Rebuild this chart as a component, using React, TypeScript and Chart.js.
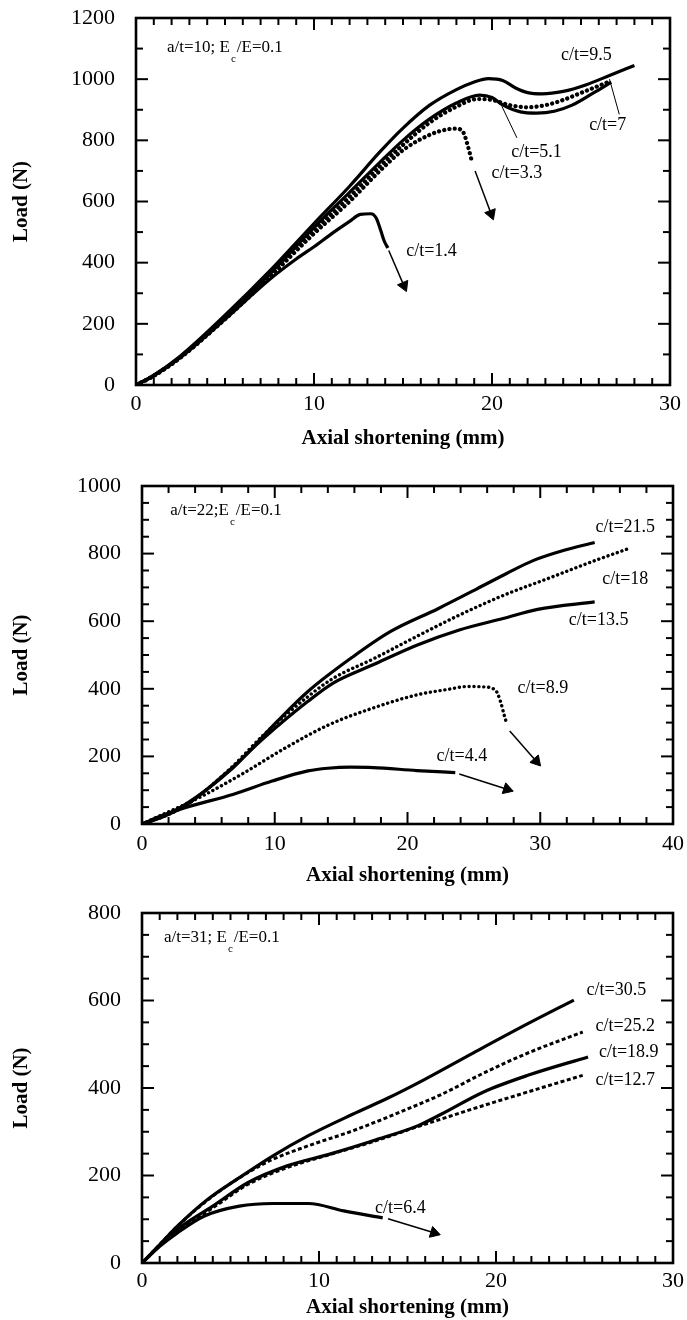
import React, { useEffect, useRef } from "react";
import { Chart, registerables } from "chart.js";

Chart.register(...registerables);

const SERIF = "'Liberation Serif', 'Times New Roman', Times, serif";

// ---------------- Panel 1 : a/t=10 ----------------
const p1XTicks = [0, 10, 20, 30];
const p1YTicks = [0, 200, 400, 600, 800, 1000, 1200];

const p1_95_x = [0, 1, 2.5, 5, 7.5, 10, 12, 13.7, 15, 16.5, 18, 19, 19.8, 20.6, 21.3, 22, 22.8, 24, 25.3, 26.6, 28];
const p1_95_y = [0, 32, 95, 228, 372, 528, 650, 762, 840, 915, 966, 991, 1002, 996, 972, 956, 952, 960, 982, 1012, 1045];
const p1_7_x = [0, 1, 2.5, 5, 7.5, 10, 12, 13.7, 15, 16.5, 18, 19.2, 20, 21, 22, 23, 24, 25, 26.7];
const p1_7_y = [0, 30, 90, 218, 358, 505, 615, 715, 785, 858, 910, 935, 932, 915, 908, 915, 932, 955, 995];
const p1_51_x = [0, 1, 2.5, 5, 7.5, 10, 12, 13.7, 15, 16.5, 18, 19.3, 20, 20.6, 21.6, 22.5, 23.5, 24.5, 25.7, 26.7];
const p1_51_y = [0, 31, 93, 222, 362, 515, 630, 728, 800, 870, 922, 948, 940, 916, 893, 889, 895, 915, 955, 990];
const p1_33_x = [0, 1, 2.5, 5, 7.5, 10, 12, 13.7, 15, 16.5, 17.5, 18, 18.4, 18.65, 18.9];
const p1_33_y = [0, 30, 90, 215, 352, 495, 600, 700, 768, 818, 836, 838, 825, 780, 725];
const p1_14_x = [0, 1, 2.5, 5, 7.5, 9, 10, 11, 12, 12.6, 13.2, 13.5, 13.75, 13.95, 14.15];
const p1_14_y = [0, 30, 90, 215, 345, 412, 452, 495, 535, 558, 560, 545, 505, 470, 448];

const p1Arrow33_x = [19.05, 19.95];
const p1Arrow33_y = [700, 560];
const p1Arrow14_x = [14.2, 15.05];
const p1Arrow14_y = [440, 325];
const p1Leader7_x = [26.6, 27.15];
const p1Leader7_y = [1000, 885];
const p1Leader51_x = [20.55, 21.4];
const p1Leader51_y = [912, 808];

const p1LabelText = ["c/t=9.5", "c/t=7", "c/t=5.1", "c/t=3.3", "c/t=1.4"];
const p1LabelX = [25.3, 26.5, 22.5, 21.4, 16.6];
const p1LabelY = [1079, 850, 762, 693, 438];
const p1Header = ["a/t=10; E", "c", "/E=0.1"];
const p1HeaderPos = [1.74, 1102];

// ---------------- Panel 2 : a/t=22 ----------------
const p2XTicks = [0, 10, 20, 30, 40];
const p2YTicks = [0, 200, 400, 600, 800, 1000];

const p2_215_x = [0, 1.5, 3.3, 6.6, 10.2, 12.5, 15.9, 18.7, 22.3, 25.2, 27.5, 29.5, 31.8, 34.1];
const p2_215_y = [0, 22, 59, 157, 304, 392, 495, 569, 637, 695, 742, 780, 810, 833];
const p2_18_x = [0, 1.5, 3.3, 6.6, 9.2, 12.5, 14.4, 17.4, 20.7, 23.9, 27.2, 30.5, 34.1, 36.6];
const p2_18_y = [0, 20, 55, 162, 265, 377, 431, 488, 555, 618, 676, 725, 779, 814];
const p2_135_x = [0, 1.5, 3.3, 6.6, 9.2, 12.5, 14.4, 17.4, 20.7, 23.9, 27.2, 29.8, 34.1];
const p2_135_y = [0, 20, 55, 160, 255, 363, 417, 471, 529, 574, 608, 635, 657];
const p2_89_x = [0, 1.6, 4.3, 7.5, 10.8, 14.1, 17.4, 20.7, 23, 24.6, 25.6, 26.6, 27.0, 27.3, 27.5];
const p2_89_y = [0, 29, 78, 147, 225, 294, 343, 382, 398, 407, 406, 397, 363, 320, 294];
const p2_44_x = [0, 1.5, 3.3, 6.9, 9.8, 12.5, 14, 15.7, 17.4, 20.7, 23.6];
const p2_44_y = [0, 25, 49, 88, 127, 157, 165, 168, 167, 158, 152];

const p2Arrow89_x = [27.7, 29.7];
const p2Arrow89_y = [275, 186];
const p2Arrow44_x = [23.9, 27.5];
const p2Arrow44_y = [148, 103];

const p2LabelText = ["c/t=21.5", "c/t=18", "c/t=13.5", "c/t=8.9", "c/t=4.4"];
const p2LabelX = [36.4, 36.4, 34.4, 30.2, 24.1];
const p2LabelY = [877, 725, 603, 402, 201];
const p2Header = ["a/t=22;E", "c", "/E=0.1"];
const p2HeaderPos = [2.13, 926];

// ---------------- Panel 3 : a/t=31 ----------------
const p3XTicks = [0, 10, 20, 30];
const p3YTicks = [0, 200, 400, 600, 800];

const p3_305_x = [0, 1, 2, 3.7, 5.5, 7.4, 9.4, 11.9, 13.9, 15.9, 18.8, 21.8, 24.4];
const p3_305_y = [0, 42, 84, 145, 195, 245, 291, 340, 377, 418, 482, 547, 601];
const p3_252_x = [0, 1, 2, 4, 6, 7.4, 9.4, 11.9, 14.4, 16.9, 19.3, 21.8, 24.9];
const p3_252_y = [0, 42, 84, 153, 207, 237, 268, 302, 342, 385, 434, 480, 528];
const p3_189_x = [0, 1, 2, 4, 6, 8.2, 10.7, 13.1, 15.6, 16.9, 19.3, 21.8, 25.2];
const p3_189_y = [0, 40, 77, 130, 184, 222, 250, 280, 314, 340, 391, 429, 471];
const p3_127_x = [0, 1, 2, 4, 6, 8.2, 10.7, 13.1, 15.6, 16.9, 19.3, 21.8, 24.9];
const p3_127_y = [0, 39, 73, 126, 180, 218, 249, 278, 312, 329, 360, 391, 429];
const p3_64_x = [0, 1, 2, 3.5, 5.5, 7.4, 9.4, 11.4, 13.6];
const p3_64_y = [0, 38, 69, 107, 130, 136, 136, 119, 103];

const p3Arrow64_x = [13.9, 16.5];
const p3Arrow64_y = [101, 69];

const p3LabelText = ["c/t=30.5", "c/t=25.2", "c/t=18.9", "c/t=12.7", "c/t=6.4"];
const p3LabelX = [26.8, 27.3, 27.5, 27.3, 14.6];
const p3LabelY = [624, 540, 482, 417, 126];
const p3Header = ["a/t=31; E", "c", "/E=0.1"];
const p3HeaderPos = [1.24, 743];

// ---------------------------------------------------
type Curve = { x: number[]; y: number[]; dotted: boolean };
type Seg = { x: number[]; y: number[] };

interface PanelCfg {
  top: number;
  height: number;
  padTop: number;
  padRight: number;
  yAxisWidth: number;
  xAxisHeight: number;
  xTickPad: number;
  yTickPad: number;
  xTitlePadBottom: number;
  xMin: number;
  xMax: number;
  yMin: number;
  yMax: number;
  xTicks: number[];
  yTicks: number[];
  xMinor: number;
  xMajor: number;
  yMinor: number;
  yMajor: number;
  curves: Curve[];
  arrows: Seg[];
  leaders: Seg[];
  labelText: string[];
  labelX: number[];
  labelY: number[];
  header: string[];
  headerPos: number[];
  dash: number[];
  dotWidth: number;
  dotCap: "round" | "butt";
  solidWidth: number;
}

const panels: PanelCfg[] = [
  {
    top: 0, height: 460, padTop: 18, padRight: 17, yAxisWidth: 136, xAxisHeight: 75,
    xTickPad: 6, yTickPad: 21, xTitlePadBottom: 8.4,
    xMin: 0, xMax: 30, yMin: 0, yMax: 1200, xTicks: p1XTicks, yTicks: p1YTicks,
    xMinor: 1, xMajor: 10, yMinor: 100, yMajor: 200,
    curves: [
      { x: p1_95_x, y: p1_95_y, dotted: false },
      { x: p1_7_x, y: p1_7_y, dotted: true },
      { x: p1_51_x, y: p1_51_y, dotted: false },
      { x: p1_33_x, y: p1_33_y, dotted: true },
      { x: p1_14_x, y: p1_14_y, dotted: false },
    ],
    arrows: [
      { x: p1Arrow33_x, y: p1Arrow33_y },
      { x: p1Arrow14_x, y: p1Arrow14_y },
    ],
    leaders: [
      { x: p1Leader7_x, y: p1Leader7_y },
      { x: p1Leader51_x, y: p1Leader51_y },
    ],
    labelText: p1LabelText, labelX: p1LabelX, labelY: p1LabelY,
    header: p1Header, headerPos: p1HeaderPos,
    dash: [0.1, 5.2], dotWidth: 4.2, dotCap: "round", solidWidth: 3.2,
  },
  {
    top: 460, height: 430, padTop: 26, padRight: 14, yAxisWidth: 142, xAxisHeight: 66,
    xTickPad: 6.8, yTickPad: 21, xTitlePadBottom: 1.4,
    xMin: 0, xMax: 40, yMin: 0, yMax: 1000, xTicks: p2XTicks, yTicks: p2YTicks,
    xMinor: 2, xMajor: 10, yMinor: 50, yMajor: 200,
    curves: [
      { x: p2_215_x, y: p2_215_y, dotted: false },
      { x: p2_18_x, y: p2_18_y, dotted: true },
      { x: p2_135_x, y: p2_135_y, dotted: false },
      { x: p2_89_x, y: p2_89_y, dotted: true },
      { x: p2_44_x, y: p2_44_y, dotted: false },
    ],
    arrows: [
      { x: p2Arrow89_x, y: p2Arrow89_y },
      { x: p2Arrow44_x, y: p2Arrow44_y },
    ],
    leaders: [],
    labelText: p2LabelText, labelX: p2LabelX, labelY: p2LabelY,
    header: p2Header, headerPos: p2HeaderPos,
    dash: [0.1, 4.8], dotWidth: 3.4, dotCap: "round", solidWidth: 3.2,
  },
  {
    top: 890, height: 430, padTop: 23, padRight: 14, yAxisWidth: 142, xAxisHeight: 57,
    xTickPad: 4.8, yTickPad: 21, xTitlePadBottom: 0,
    xMin: 0, xMax: 30, yMin: 0, yMax: 800, xTicks: p3XTicks, yTicks: p3YTicks,
    xMinor: 1, xMajor: 10, yMinor: 50, yMajor: 200,
    curves: [
      { x: p3_305_x, y: p3_305_y, dotted: false },
      { x: p3_252_x, y: p3_252_y, dotted: true },
      { x: p3_189_x, y: p3_189_y, dotted: false },
      { x: p3_127_x, y: p3_127_y, dotted: true },
      { x: p3_64_x, y: p3_64_y, dotted: false },
    ],
    arrows: [{ x: p3Arrow64_x, y: p3Arrow64_y }],
    leaders: [],
    labelText: p3LabelText, labelX: p3LabelX, labelY: p3LabelY,
    header: p3Header, headerPos: p3HeaderPos,
    dash: [4, 2.5], dotWidth: 3, dotCap: "butt", solidWidth: 3.2,
  },
];

const toPts = (xs: number[], ys: number[]) => xs.map((x, i) => ({ x, y: ys[i] }));

function makeDecor(cfg: PanelCfg) {
  return {
    id: "decor",
    afterDatasetsDraw(chart: any) {
      const { ctx, chartArea } = chart;
      const { left, right, top, bottom } = chartArea;
      const xs = chart.scales.x;
      const ys = chart.scales.y;
      ctx.save();
      ctx.strokeStyle = "#000";
      ctx.fillStyle = "#000";
      ctx.lineCap = "butt";
      const seg = (a: number, b: number, c: number, d: number) => {
        ctx.beginPath();
        ctx.moveTo(a, b);
        ctx.lineTo(c, d);
        ctx.stroke();
      };
      const isMajor = (v: number, m: number) => Math.abs(v / m - Math.round(v / m)) < 1e-6;
      ctx.lineWidth = 2;
      const nx = Math.round((cfg.xMax - cfg.xMin) / cfg.xMinor);
      for (let i = 1; i < nx; i++) {
        const v = cfg.xMin + i * cfg.xMinor;
        const len = isMajor(v, cfg.xMajor) ? 12 : 7;
        const px = xs.getPixelForValue(v);
        seg(px, bottom, px, bottom - len);
        seg(px, top, px, top + len);
      }
      const ny = Math.round((cfg.yMax - cfg.yMin) / cfg.yMinor);
      for (let i = 1; i < ny; i++) {
        const v = cfg.yMin + i * cfg.yMinor;
        const len = isMajor(v, cfg.yMajor) ? 12 : 7;
        const py = ys.getPixelForValue(v);
        seg(left, py, left + len, py);
        seg(right, py, right - len, py);
      }
      ctx.lineWidth = 2.6;
      ctx.strokeRect(left, top, right - left, bottom - top);

      // curve labels
      ctx.font = `18px ${SERIF}`;
      ctx.textAlign = "center";
      ctx.textBaseline = "middle";
      cfg.labelText.forEach((t, i) => {
        ctx.fillText(t, xs.getPixelForValue(cfg.labelX[i]), ys.getPixelForValue(cfg.labelY[i]));
      });

      // header with subscript
      let hx = xs.getPixelForValue(cfg.headerPos[0]);
      const hy = ys.getPixelForValue(cfg.headerPos[1]);
      ctx.textAlign = "left";
      ctx.font = `17px ${SERIF}`;
      ctx.fillText(cfg.header[0], hx, hy);
      hx += ctx.measureText(cfg.header[0]).width + 1;
      ctx.font = `11px ${SERIF}`;
      ctx.fillText(cfg.header[1], hx, hy + 11);
      hx += ctx.measureText(cfg.header[1]).width + 1;
      ctx.font = `17px ${SERIF}`;
      ctx.fillText(cfg.header[2], hx, hy);
      ctx.restore();
    },
  };
}

function Panel({ cfg }: { cfg: PanelCfg }) {
  const ref = useRef<HTMLCanvasElement | null>(null);
  useEffect(() => {
    if (!ref.current) return;
    const datasets: any[] = [];
    cfg.curves.forEach((c) => {
      datasets.push({
        data: toPts(c.x, c.y),
        borderColor: "#000",
        borderWidth: c.dotted ? cfg.dotWidth : cfg.solidWidth,
        borderDash: c.dotted ? cfg.dash : [],
        borderCapStyle: c.dotted ? cfg.dotCap : "butt",
        pointRadius: 0,
        fill: false,
        cubicInterpolationMode: "monotone",
      });
    });
    cfg.leaders.forEach((l) => {
      datasets.push({
        data: toPts(l.x, l.y),
        borderColor: "#000",
        borderWidth: 1,
        pointRadius: 0,
        fill: false,
      });
    });
    cfg.arrows.forEach((a) => {
      datasets.push({
        data: toPts(a.x, a.y),
        borderColor: "#000",
        borderWidth: 1.5,
        fill: false,
        pointStyle: "triangle",
        pointBackgroundColor: "#000",
        pointBorderColor: "#000",
        pointBorderWidth: 1,
        pointRadius: (c: any) => (c.dataIndex === 1 ? 6.5 : 0),
        pointRotation: (c: any) => {
          const d = c.dataset.data;
          const sx = c.chart.scales.x;
          const sy = c.chart.scales.y;
          const dx = sx.getPixelForValue(d[1].x) - sx.getPixelForValue(d[0].x);
          const dy = sy.getPixelForValue(d[1].y) - sy.getPixelForValue(d[0].y);
          return (Math.atan2(dx, -dy) * 180) / Math.PI;
        },
      });
    });

    const chart = new Chart(ref.current, {
      type: "line",
      data: { datasets },
      plugins: [makeDecor(cfg)],
      options: {
        animation: false,
        responsive: false,
        events: [],
        layout: {
          autoPadding: false,
          padding: { top: cfg.padTop, left: 0, right: cfg.padRight, bottom: 0 },
        },
        plugins: { legend: { display: false }, tooltip: { enabled: false } },
        scales: {
          x: {
            type: "linear",
            min: cfg.xMin,
            max: cfg.xMax,
            afterBuildTicks: (s: any) => {
              s.ticks = cfg.xTicks.map((v) => ({ value: v }));
            },
            afterFit: (s: any) => {
              s.height = cfg.xAxisHeight;
              s.paddingLeft = 0;
              s.paddingRight = 0;
            },
            grid: { display: false, drawTicks: false },
            border: { display: false },
            ticks: {
              color: "#000",
              font: { family: SERIF, size: 22 },
              padding: cfg.xTickPad,
              maxRotation: 0,
              autoSkip: false,
              callback: (v: any) => String(v),
            },
            title: {
              display: true,
              text: "Axial shortening (mm)",
              color: "#000",
              font: { family: SERIF, size: 21, weight: "bold" },
              padding: { top: 0, bottom: cfg.xTitlePadBottom },
            },
          },
          y: {
            type: "linear",
            min: cfg.yMin,
            max: cfg.yMax,
            afterBuildTicks: (s: any) => {
              s.ticks = cfg.yTicks.map((v) => ({ value: v }));
            },
            afterFit: (s: any) => {
              s.width = cfg.yAxisWidth;
              s.paddingTop = 0;
              s.paddingBottom = 0;
            },
            grid: { display: false, drawTicks: false },
            border: { display: false },
            ticks: {
              color: "#000",
              font: { family: SERIF, size: 22 },
              padding: cfg.yTickPad,
              autoSkip: false,
              callback: (v: any) => String(v),
            },
            title: {
              display: true,
              text: "Load (N)",
              color: "#000",
              font: { family: SERIF, size: 21, weight: "bold" },
              padding: { top: 9.4, bottom: 0 },
            },
          },
        },
      } as any,
    });
    return () => chart.destroy();
  }, [cfg]);

  return (
    <div style={{ position: "absolute", left: 0, top: cfg.top, width: 687, height: cfg.height }}>
      <canvas ref={ref} width={687} height={cfg.height} style={{ display: "block" }} />
    </div>
  );
}

export default function App() {
  return (
    <div style={{ position: "absolute", left: 0, top: 0, width: 687, height: 1320, background: "#fff" }}>
      {panels.map((p, i) => (
        <Panel key={i} cfg={p} />
      ))}
    </div>
  );
}
